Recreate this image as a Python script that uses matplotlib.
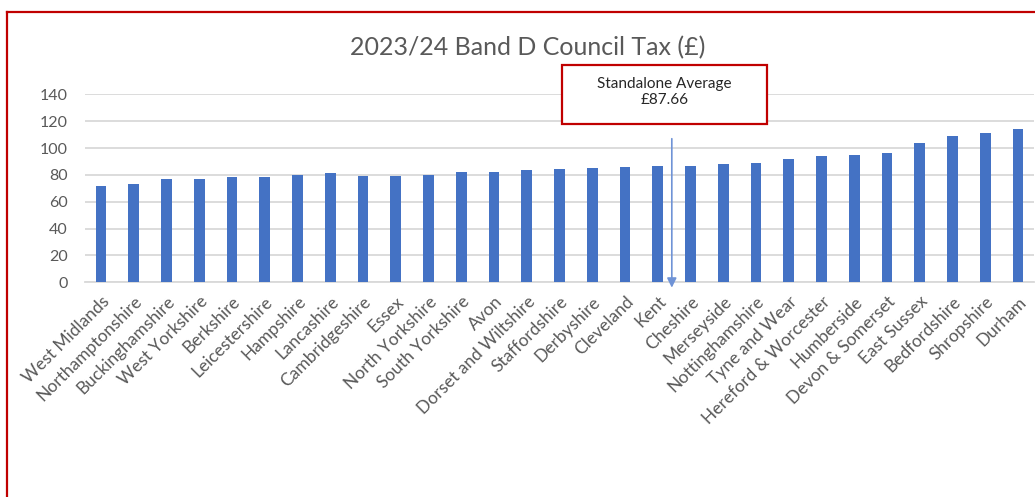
import matplotlib.pyplot as plt
from matplotlib.lines import Line2D
from matplotlib.patches import Rectangle

plt.rcParams['font.family'] = ['Lato', 'DejaVu Sans']

# Band D council tax (police precept) 2023/24, sorted ascending
areas = ["West Midlands", "Northamptonshire", "Buckinghamshire", "West Yorkshire",
         "Berkshire", "Leicestershire", "Hampshire", "Lancashire", "Cambridgeshire",
         "Essex", "North Yorkshire", "South Yorkshire", "Avon", "Dorset and Wiltshire",
         "Staffordshire", "Derbyshire", "Cleveland", "Kent", "Cheshire", "Merseyside",
         "Nottinghamshire", "Tyne and Wear", "Hereford & Worcester", "Humberside",
         "Devon & Somerset", "East Sussex", "Bedfordshire", "Shropshire", "Durham"]
tax = [72.0, 73.0, 76.7, 76.7, 78.7, 78.7, 80.1, 81.6, 79.4, 79.4,
       80.1, 82.4, 82.4, 83.9, 84.6, 85.4, 86.1, 86.8, 86.8, 88.2,
       89.1, 91.8, 94.0, 94.8, 96.3, 103.7, 108.7, 111.2, 113.9]
yticks = [0, 20, 40, 60, 80, 100, 120, 140]
avg_label = "Standalone Average\n£87.66"
avg_pos = 17.43  # arrow sits between Kent and Cheshire

grey = "#595959"
red = "#C00000"

fig = plt.figure(figsize=(10.35, 4.97), dpi=100)
ax = fig.add_axes([0.0817, 0.432, 0.9177, 0.378])

x = range(len(areas))
ax.bar(x, tax, width=0.33, color="#4472C4", zorder=3)

ax.set_xlim(-0.5, len(areas) - 0.5)
ax.set_ylim(0, 140)
ax.set_yticks(yticks)
ax.yaxis.grid(True, color="#D9D9D9", linewidth=1.3, zorder=0)
ax.set_axisbelow(True)
for s in ["top", "right", "left"]:
    ax.spines[s].set_visible(False)
ax.spines["bottom"].set_color("#D9D9D9")
ax.spines["bottom"].set_linewidth(1.3)
ax.tick_params(axis="y", length=0, pad=12, labelsize=11.5, labelcolor=grey)
ax.tick_params(axis="x", length=0, pad=8, labelsize=12.5, labelcolor=grey)
ax.set_xticks(list(x))
ax.set_xticklabels(areas, rotation=45, ha="right", va="top", rotation_mode="anchor")

# arrow pointing to the average position
ax.annotate("", xy=(avg_pos, -4), xytext=(avg_pos, 107), annotation_clip=False,
            arrowprops=dict(arrowstyle="-|>", color="#6F93D6", lw=1.2,
                            mutation_scale=14, shrinkA=0, shrinkB=0))

fig.text(0.51, 0.905, "2023/24 Band D Council Tax (£)", ha="center", va="center",
         fontsize=18, color=grey)

# callout box
fig.add_artist(Rectangle((0.543, 0.7505), 0.198, 0.1187, transform=fig.transFigure,
                         facecolor="white", edgecolor=red, linewidth=1.6))
fig.text(0.642, 0.815, avg_label, ha="center", va="center", fontsize=11,
         color="#262626", linespacing=1.25)

# outer frame (only top and left edges visible in the crop)
fig.add_artist(Line2D([0.007, 1.0], [0.976, 0.976], transform=fig.transFigure,
                      color=red, linewidth=1.6))
fig.add_artist(Line2D([0.0072, 0.0072], [0.0, 0.976], transform=fig.transFigure,
                      color=red, linewidth=1.6))

fig.savefig("out.png", dpi=100)
